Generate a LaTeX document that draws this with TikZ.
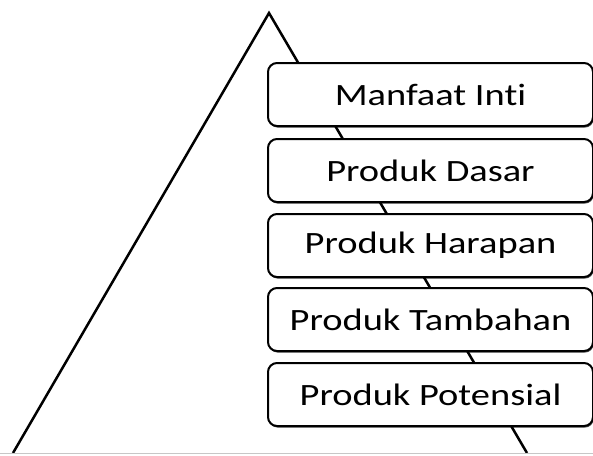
\documentclass[tikz,border=0pt]{standalone}
\usepackage{fontspec}
\setmainfont{Carlito}[FakeStretch=1.24, Ligatures=NoCommon]
\usetikzlibrary{shadows}
\begin{document}
\begin{tikzpicture}[x=1pt,y=-1pt,
  layer/.style={draw=black, line width=2pt, rounded corners=9pt, fill=white,
    minimum width=325pt, minimum height=63pt, inner sep=0pt, anchor=north west,
    font=\fontsize{31}{36}\selectfont,
    drop shadow={shadow xshift=0.8pt, shadow yshift=-1.6pt, opacity=0.7, fill=black}},
  edge/.style={line width=2.5pt, line join=miter}]
\useasboundingbox (0,0) rectangle (593,455);
% pyramid outline
\coordinate (apex) at (269,13);
\coordinate (bl) at (13,453);
\coordinate (br) at (527,453);
\draw[edge] (bl) -- (apex) -- (br);
\draw[black!22, line width=1pt] (0,453.5) -- (593,453.5);
% levels
\node[layer] (l1) at (267,62)  {Manfaat Inti};
\node[layer] (l2) at (267,138) {Produk Dasar};
\node[layer] (l3) at (267,213) {Produk Harapan};
\node[layer] (l4) at (267,287) {Produk Tambahan};
\node[layer] (l5) at (267,362) {Produk Potensial};
\end{tikzpicture}
\end{document}
